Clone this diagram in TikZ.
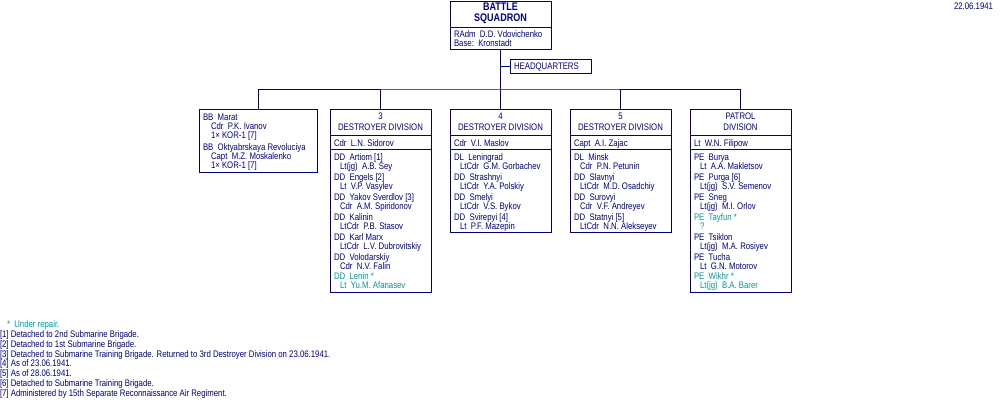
\documentclass[tikz,border=0pt]{standalone}
\usepackage{fontspec}
\setmainfont{Liberation Sans}[FakeStretch=0.82]
\definecolor{navy}{RGB}{0,0,128}
\definecolor{teal2}{RGB}{0,153,153}
\begin{document}
\begin{tikzpicture}[x=1pt,y=-1pt,line width=1pt,
  every node/.style={inner sep=0pt,outer sep=0pt},
  box/.style 2 args={draw=navy,anchor=north west,minimum width=#1pt,minimum height=#2pt},
  txt/.style={font=\fontsize{9.5}{9.5}\selectfont,text=navy,anchor=base west},
  ctxt/.style={font=\fontsize{9.5}{9.5}\selectfont,text=navy,anchor=base},
  ttl/.style={font=\fontsize{11}{11}\selectfont\bfseries,text=navy,anchor=base},
  conn/.style={draw=navy,line width=1pt}]
\useasboundingbox (0,0) rectangle (1000,400);
% boxes
\node[box={101}{48}] (sq) at (450,1) {};
\node[box={81}{14}] (hq) at (510,59) {};
\node[box={118}{63}] (bb) at (199,109) {};
\node[box={101}{183}] (d3) at (330,109) {};
\node[box={101}{123}] (d4) at (450,109) {};
\node[box={101}{123}] (d5) at (570,109) {};
\node[box={101}{183}] (pd) at (690,109) {};
% dividers
\draw[navy] (450,27) -- (551,27);
\foreach \l in {330,450,570,690} {
  \draw[navy] (\l,135) -- (\l+101,135);
  \draw[navy] (\l,149) -- (\l+101,149);
}
% connectors
\coordinate (bus) at (sq.south |- 0,89);
\draw[conn] (sq.south) -- (d4.north);
\draw[conn] (bb.north) |- (bus) -| (pd.north);
\draw[conn] (d3.north) -- (d3.north |- bus);
\draw[conn] (d5.north) -- (d5.north |- bus);
\draw[conn] (sq.south |- hq.west) -- (hq.west);
% titles
\node[ttl] (t1) at (500.5,7+3.9) {BATTLE};
\node[ttl] (t2) at (500.5,17.5+3.9) {SQUADRON};
\node[txt] (hqt) at (514,66+3.4) {HEADQUARTERS};
\foreach \cx/\a/\b [count=\i] in {380.5/3/DESTROYER DIVISION,500.5/4/DESTROYER DIVISION,620.5/5/DESTROYER DIVISION,740.5/PATROL/DIVISION} {
  \node[ctxt,name=ha\i] at (\cx,116+3.4) {\a};
  \node[ctxt,name=hb\i] at (\cx,127+3.4) {\b};
}
\node[txt,anchor=base east] (date) at (993,6+3.4) {22.06.1941};
% text lines
\foreach \x/\y/\c/\t [count=\i] in {
 454/34/navy/{RAdm~~D.D. Vdovichenko}, 454/43/navy/{Base:~~Kronstadt},
 203/117/navy/{BB~~Marat}, 211/126/navy/{Cdr~~P.K. Ivanov}, 211/135/navy/{1× KOR-1 [7]},
 203/147/navy/{BB~~Oktyabrskaya Revoluciya}, 211/156/navy/{Capt~~M.Z. Moskalenko}, 211/165/navy/{1× KOR-1 [7]},
 334/143/navy/{Cdr~~L.N. Sidorov},
 334/157/navy/{DD~~Artiom [1]}, 340/166/navy/{Lt(jg)~~A.B. Sey},
 334/177/navy/{DD~~Engels [2]}, 340/186/navy/{Lt~~V.P. Vasylev},
 334/197/navy/{DD~~Yakov Sverdlov [3]}, 340/206/navy/{Cdr~~A.M. Spiridonov},
 334/217/navy/{DD~~Kalinin}, 340/226/navy/{LtCdr~~P.B. Stasov},
 334/237/navy/{DD~~Karl Marx}, 340/246/navy/{LtCdr~~L.V. Dubrovitskiy},
 334/257/navy/{DD~~Volodarskiy}, 340/266/navy/{Cdr~~N.V. Falin},
 334/276/teal2/{DD~~Lenin *}, 340/285/teal2/{Lt~~Yu.M. Afanasev},
 454/143/navy/{Cdr~~V.I. Maslov},
 454/157/navy/{DL~~Leningrad}, 460/166/navy/{LtCdr~~G.M. Gorbachev},
 454/177/navy/{DD~~Strashnyi}, 460/186/navy/{LtCdr~~Y.A. Polskiy},
 454/197/navy/{DD~~Smelyi}, 460/206/navy/{LtCdr~~V.S. Bykov},
 454/217/navy/{DD~~Svirepyi [4]}, 460/226/navy/{Lt~~P.F. Mazepin},
 574/143/navy/{Capt~~A.I. Zajac},
 574/157/navy/{DL~~Minsk}, 580/166/navy/{Cdr~~P.N. Petunin},
 574/177/navy/{DD~~Slavnyi}, 580/186/navy/{LtCdr~~M.D. Osadchiy},
 574/197/navy/{DD~~Surovyi}, 580/206/navy/{Cdr~~V.F. Andreyev},
 574/217/navy/{DD~~Statnyi [5]}, 580/226/navy/{LtCdr~~N.N. Alekseyev},
 694/143/navy/{Lt~~W.N. Filipow},
 694/157/navy/{PE~~Burya}, 700/166/navy/{Lt~~A.A. Makletsov},
 694/177/navy/{PE~~Purga [6]}, 700/186/navy/{Lt(jg)~~S.V. Semenov},
 694/197/navy/{PE~~Sneg}, 700/206/navy/{Lt(jg)~~M.I. Orlov},
 694/217/teal2/{PE~~Tayfun *}, 700/226/teal2/{?},
 694/237/navy/{PE~~Tsiklon}, 700/246/navy/{Lt(jg)~~M.A. Rosiyev},
 694/257/navy/{PE~~Tucha}, 700/266/navy/{Lt~~G.N. Motorov},
 694/276/teal2/{PE~~Wikhr *}, 700/285/teal2/{Lt(jg)~~B.A. Barer},
 7/324/teal2/{*~~Under repair.},
 0/334/navy/{[1] Detached to 2nd Submarine Brigade.},
 0/344/navy/{[2] Detached to 1st Submarine Brigade.},
 0/354/navy/{[3] Detached to Submarine Training Brigade. Returned to 3rd Destroyer Division on 23.06.1941.},
 0/363/navy/{[4] As of 23.06.1941.},
 0/373/navy/{[5] As of 28.06.1941.},
 0/383/navy/{[6] Detached to Submarine Training Brigade.},
 0/393/navy/{[7] Administered by 15th Separate Reconnaissance Air Regiment.}} {
  \node[txt,text=\c,name=L\i] at (\x,\y+3.4) {\t};
}
\end{tikzpicture}
\end{document}
